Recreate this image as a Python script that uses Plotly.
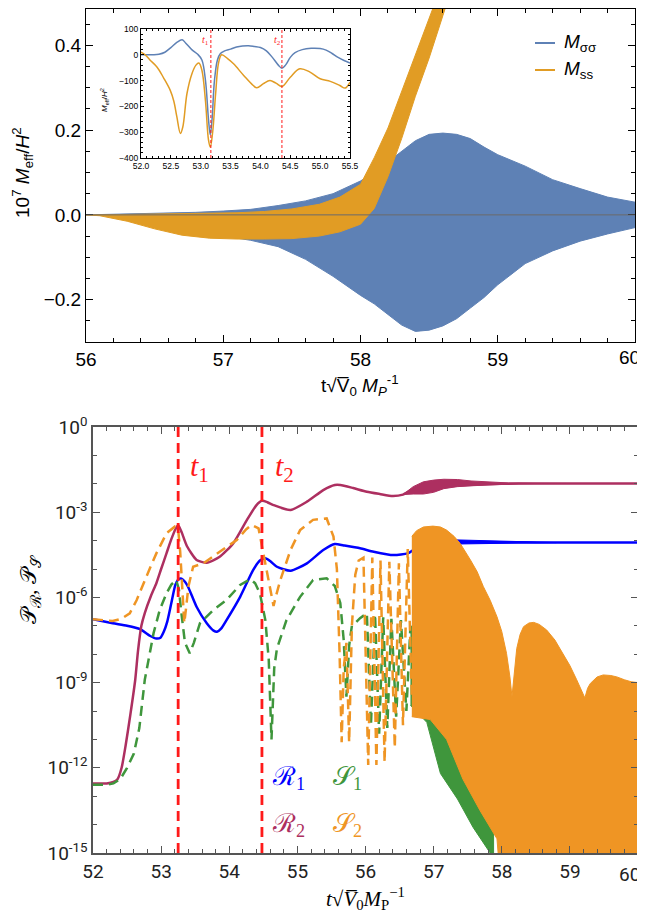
import plotly.graph_objects as go

# page body has an 8px margin; the figure is sized to fill the rest of the 645x919 window
OX, OY = 8, 8
W, H = 645 - OX, 919 - OY
def px(x): return (x - OX) / W
def py(y): return 1 - (y - OY) / H

C_SIG = '#5E81B5'
C_SS = '#E19C24'
C_R1 = '#0000FF'
C_R2 = '#AD2F60'
C_S1 = '#3F963C'
C_S2 = '#EF9524'
RED = '#FF1A1A'

# ---------------- top panel: envelopes of the oscillating masses (10^7 M_eff/H^2)
m_sig_t = [56.0, 56.3, 56.6, 56.8, 57.0, 57.2, 57.4, 57.6, 57.8, 58.0, 58.1, 58.2, 58.3, 58.4, 58.5,
           58.6, 58.7, 58.8, 58.9, 59.0, 59.2, 59.4, 59.6, 59.8, 60.0]
m_sig_hi = [0.0, 0.002, 0.004, 0.006, 0.009, 0.013, 0.022, 0.033, 0.05, 0.08, 0.1, 0.125, 0.152, 0.175, 0.19,
            0.193, 0.19, 0.18, 0.16, 0.142, 0.115, 0.083, 0.062, 0.042, 0.03]
m_sig_lo = [0.0, -0.004, -0.02, -0.038, -0.05, -0.06, -0.075, -0.105, -0.145, -0.19, -0.21, -0.235, -0.26, -0.275, -0.272,
            -0.262, -0.245, -0.22, -0.195, -0.165, -0.115, -0.085, -0.062, -0.045, -0.03]

m_ss_t = [56.0, 56.1, 56.3, 56.5, 56.7, 56.9, 57.1, 57.3, 57.5, 57.7, 57.85, 58.0, 58.1, 58.2, 58.3, 58.4, 58.5, 58.6, 58.7]
m_ss_hi = [0.0, 0.0, 0.001, 0.002, 0.003, 0.004, 0.005, 0.008, 0.014, 0.025, 0.042, 0.072, 0.135, 0.205, 0.29, 0.375, 0.46, 0.55, 0.65]
m_ss_lo = [0.0, -0.002, -0.015, -0.033, -0.048, -0.055, -0.057, -0.057, -0.056, -0.05, -0.04, -0.022, 0.015, 0.09, 0.18, 0.28, 0.37, 0.47, 0.57]

top_xticks = [56, 57, 58, 59, 60]
top_xlabels = ['56', '57', '58', '59', '60']

# ---------------- inset (M_eff/H^2)
in_sig_t = [52.0, 52.2, 52.3, 52.4, 52.5, 52.6, 52.69, 52.75, 52.85, 52.95, 53.02, 53.08, 53.13, 53.16, 53.19,
            53.23, 53.28, 53.33, 53.4, 53.5, 53.6, 53.7, 53.8, 53.9, 54.0, 54.1, 54.2, 54.3, 54.36, 54.42,
            54.5, 54.58, 54.7, 54.85, 55.0, 55.1, 55.2, 55.3, 55.4, 55.5]
in_sig_v = [0, 0, 2, 10, 28, 48, 58, 45, 20, 2, -20, -100, -250, -310, -250,
            -100, -20, 5, 15, 22, 30, 34, 35, 32, 28, 15, -10, -40, -52, -40,
            -10, 8, 20, 25, 24, 18, 5, -10, -22, -32]
in_ss_t = [52.0, 52.07, 52.15, 52.27, 52.38, 52.49, 52.55, 52.6, 52.66, 52.7, 52.77, 52.85, 52.92, 52.97,
           53.02, 53.08, 53.13, 53.16, 53.2, 53.25, 53.3, 53.35, 53.45, 53.55, 53.72, 53.88, 53.94, 54.05,
           54.16, 54.26, 54.36, 54.5, 54.66, 54.83, 55.0, 55.17, 55.33, 55.42, 55.5]
in_ss_v = [10, 0, -20, -48, -90, -138, -180, -240, -305, -280, -150, -75, -40, -32,
           -60, -180, -330, -358, -300, -150, -30, 0, -15, -35, -80, -119, -128, -112,
           -100, -110, -123, -87, -54, -67, -93, -103, -119, -129, -106]
in_t1, in_t2 = 53.17, 54.36

# ---------------- bottom panel (log10 of power spectra)
R1_t = [52.0, 52.29, 52.5, 52.69, 52.84, 52.93, 52.99, 53.04, 53.09, 53.15, 53.21, 53.26, 53.3, 53.35, 53.4,
        53.52, 53.67, 53.77, 53.82, 53.88, 53.96, 54.16, 54.35, 54.45, 54.53, 54.6, 54.7, 54.9, 55.14, 55.38,
        55.55, 55.68, 55.92, 56.12, 56.41, 56.62, 56.72, 56.85, 57.0, 57.4, 58.0, 59.0, 60.0]
R1_v = [-6.77, -6.91, -7.0, -7.12, -7.36, -7.45, -7.42, -7.2, -6.85, -6.2, -5.55, -5.35, -5.34, -5.45, -5.65,
        -6.33, -6.91, -7.17, -7.21, -7.1, -6.8, -5.98, -5.04, -4.7, -4.62, -4.72, -4.92, -5.06, -4.8, -4.33,
        -4.12, -4.17, -4.27, -4.39, -4.51, -4.45, -4.3, -4.15, -4.08, -4.05, -4.06, -4.07, -4.07]
R1b_t = [56.7, 56.9, 57.1, 57.4, 57.7, 58.0, 58.4, 58.8]
R1b_hi = [-4.3, -3.98, -3.96, -3.98, -4.01, -4.03, -4.05, -4.07]
R1b_lo = [-4.3, -4.15, -4.13, -4.12, -4.1, -4.09, -4.08, -4.07]

R2_t = [52.0, 52.2, 52.3, 52.36, 52.42, 52.48, 52.55, 52.62, 52.66, 52.71, 52.76, 52.85, 52.93, 53.0, 53.08,
        53.15, 53.21, 53.25, 53.3, 53.38, 53.52, 53.67, 53.86, 54.06, 54.26, 54.4, 54.48, 54.56, 54.65, 54.9,
        55.14, 55.38, 55.55, 55.63, 55.82, 56.02, 56.21, 56.4, 56.55, 56.7, 57.0, 57.5, 58.0, 58.5, 59.0, 60.0]
R2_v = [-12.55, -12.55, -12.5, -12.4, -12.0, -11.2, -10.1, -8.9, -7.9, -7.0, -6.55, -5.95, -5.5, -5.0, -4.44,
        -3.95, -3.6, -3.45, -3.7, -4.2, -4.68, -4.78, -4.57, -4.09, -3.27, -2.75, -2.6, -2.65, -2.75, -2.92,
        -2.63, -2.22, -2.04, -2.04, -2.15, -2.28, -2.36, -2.43, -2.38, -2.2, -2.1, -2.04, -2.0, -1.99, -1.99, -1.99]
R2b_t = [56.55, 56.7, 56.85, 57.0, 57.15, 57.35, 57.55, 57.8, 58.1, 58.5, 59.0]
R2b_hi = [-2.38, -2.1, -1.93, -1.87, -1.84, -1.85, -1.9, -1.94, -1.97, -1.985, -1.99]
R2b_lo = [-2.38, -2.36, -2.36, -2.3, -2.17, -2.1, -2.07, -2.03, -2.01, -1.995, -1.99]

S1_t = [52.0, 52.2, 52.3, 52.4, 52.5, 52.6, 52.68, 52.76, 52.89, 52.98, 53.08, 53.15, 53.22, 53.26, 53.3,
        53.35, 53.42, 53.48, 53.57, 53.77, 53.96, 54.16, 54.31, 54.38, 54.45, 54.53, 54.58, 54.62, 54.66, 54.7,
        54.84, 55.04, 55.23, 55.43, 55.55, 55.63, 55.68, 55.72, 55.76, 55.8, 55.85, 55.92, 56.02, 56.08, 56.14,
        56.2, 56.26, 56.32, 56.38, 56.45, 56.52, 56.6, 56.66]
S1_v = [-12.6, -12.6, -12.55, -12.4, -12.0, -11.5, -10.6, -8.9, -7.25, -6.44, -5.85, -5.55, -5.39, -5.7, -6.6,
        -7.6, -7.97, -7.6, -6.91, -6.44, -6.09, -5.56, -5.36, -5.5, -5.86, -6.8, -8.2, -11.0, -8.5, -7.8,
        -6.8, -5.98, -5.39, -5.33, -5.6, -6.2, -7.5, -9.5, -7.7, -7.0, -6.9, -6.73, -6.56, -10.5, -6.6,
        -10.8, -6.7, -10.6, -6.75, -10.2, -6.8, -10.0, -7.0]
S1hi_t = [56.66, 56.9, 57.2, 57.5, 57.75, 57.88]
S1hi_v = [-7.0, -7.3, -8.0, -9.5, -11.5, -14.0]
S1lo_t = [56.66, 56.9, 57.1, 57.35, 57.58, 57.83, 57.88]
S1lo_v = [-9.8, -10.4, -12.2, -13.1, -14.1, -15.0, -16.0]

S2_t = [52.0, 52.29, 52.42, 52.54, 52.64, 52.74, 52.84, 52.93, 53.08, 53.2, 53.25, 53.28, 53.31, 53.34, 53.37,
        53.4, 53.47, 53.62, 53.86, 54.11, 54.25, 54.33, 54.43, 54.5, 54.57, 54.62, 54.65, 54.68, 54.75, 54.9,
        55.04, 55.23, 55.43, 55.53, 55.58, 55.62, 55.65, 55.68, 55.72, 55.76, 55.8, 55.85, 55.9, 55.97, 56.04,
        56.1, 56.16, 56.22, 56.28, 56.35, 56.43, 56.49, 56.55, 56.62, 56.68]
S2_v = [-6.77, -6.83, -6.75, -6.56, -6.1, -5.5, -4.95, -4.45, -3.74, -3.51, -3.6, -4.4, -5.6, -6.9, -6.3,
        -5.62, -4.92, -4.8, -4.39, -3.98, -3.6, -3.45, -3.57, -4.45, -5.27, -6.0, -6.3, -6.0, -5.39, -4.33,
        -3.63, -3.27, -3.22, -3.86, -5.0, -8.0, -11.1, -8.5, -7.6, -11.1, -7.0, -5.2, -4.7, -4.6, -11.9,
        -4.6, -11.9, -4.7, -11.8, -4.75, -11.3, -4.8, -10.5, -4.3, -9.5]
S2hi_t = [56.68, 56.75, 56.85, 56.99, 57.1, 57.19, 57.3, 57.39, 57.54, 57.64, 57.73, 57.83, 57.93, 58.0, 58.07,
          58.12, 58.15, 58.18, 58.22, 58.27, 58.32, 58.4, 58.47, 58.55, 58.66, 58.78, 58.9, 59.0, 59.1, 59.17,
          59.22, 59.26, 59.3, 59.4, 59.49, 59.6, 59.69, 59.8, 59.9, 60.0]
S2hi_v = [-3.85, -3.65, -3.52, -3.49, -3.52, -3.63, -3.85, -4.1, -4.68, -5.1, -5.62, -6.1, -6.68, -7.2, -7.97,
          -8.8, -9.5, -8.7, -7.8, -7.3, -7.03, -6.9, -6.88, -6.95, -7.15, -7.5, -7.97, -8.4, -8.9, -9.3,
          -9.54, -9.2, -9.03, -8.8, -8.73, -8.75, -8.8, -8.9, -8.97, -9.0]
S2lo_t = [56.68, 56.95, 57.19, 57.43, 57.68, 57.93, 57.98, 60.0]
S2lo_v = [-10.2, -10.3, -11.0, -12.4, -13.5, -14.5, -16.0, -16.0]

bot_xticks = [52, 53, 54, 55, 56, 57, 58, 59, 60]
bot_xlabels = ['52', '53', '54', '55', '56', '57', '58', '59', '60']

t1, t2 = 53.25, 54.48

def p10(v):
    return [10 ** a for a in v]

def band(ax, ay, t_hi, v_hi, t_lo, v_lo, color, log=False):
    yy = v_hi + v_lo[::-1]
    if log:
        yy = p10(yy)
    return go.Scatter(x=t_hi + t_lo[::-1], y=yy, fill='toself', fillcolor=color, mode='lines',
                      line=dict(color=color, width=1), xaxis=ax, yaxis=ay, hoverinfo='skip', showlegend=False)

fig = go.Figure()
# top panel bands
fig.add_trace(band('x', 'y', m_sig_t, m_sig_hi, m_sig_t, m_sig_lo, C_SIG))
fig.add_trace(band('x', 'y', m_ss_t, m_ss_hi, m_ss_t, m_ss_lo, C_SS))
# inset
fig.add_trace(go.Scatter(x=in_sig_t, y=in_sig_v, mode='lines', line=dict(color=C_SIG, width=1.5, shape='spline'),
                         xaxis='x2', yaxis='y2', showlegend=False))
fig.add_trace(go.Scatter(x=in_ss_t, y=in_ss_v, mode='lines', line=dict(color=C_SS, width=1.5, shape='spline'),
                         xaxis='x2', yaxis='y2', showlegend=False))
# bottom
fig.add_trace(go.Scatter(x=R1_t, y=p10(R1_v), mode='lines', line=dict(color=C_R1, width=2.5, shape='spline', smoothing=0.6),
                         xaxis='x3', yaxis='y3', showlegend=False))
fig.add_trace(band('x3', 'y3', R1b_t, R1b_hi, R1b_t, R1b_lo, C_R1, log=True))
fig.add_trace(go.Scatter(x=R2_t, y=p10(R2_v), mode='lines', line=dict(color=C_R2, width=2.5, shape='spline', smoothing=0.6),
                         xaxis='x3', yaxis='y3', showlegend=False))
fig.add_trace(band('x3', 'y3', R2b_t, R2b_hi, R2b_t, R2b_lo, C_R2, log=True))
fig.add_trace(go.Scatter(x=S1_t, y=p10(S1_v), mode='lines', line=dict(color=C_S1, width=2.5, dash='10px,6px'),
                         xaxis='x3', yaxis='y3', showlegend=False))
fig.add_trace(band('x3', 'y3', S1hi_t, S1hi_v, S1lo_t, S1lo_v, C_S1, log=True))
fig.add_trace(go.Scatter(x=S2_t, y=p10(S2_v), mode='lines', line=dict(color=C_S2, width=2.5, dash='10px,6px'),
                         xaxis='x3', yaxis='y3', showlegend=False))
fig.add_trace(band('x3', 'y3', S2hi_t, S2hi_v, S2lo_t, S2lo_v, C_S2, log=True))

shapes = []
# top zero line
shapes.append(dict(type='line', xref='x domain', yref='y', x0=0, x1=1, y0=0, y1=0,
                   line=dict(color='#6b6b6b', width=1), layer='above'))
# inset zero line
shapes.append(dict(type='line', xref='x2 domain', yref='y2', x0=0, x1=1, y0=0, y1=0,
                   line=dict(color='#9a9a9a', width=1.5), layer='below'))
for tv in (in_t1, in_t2):
    shapes.append(dict(type='line', xref='x2', yref='y2 domain', x0=tv, x1=tv, y0=0, y1=1,
                       line=dict(color=RED, width=1, dash='3px,2px'), layer='above'))
for tv in (t1, t2):
    shapes.append(dict(type='line', xref='x3', yref='y3 domain', x0=tv, x1=tv, y0=0, y1=1,
                       line=dict(color=RED, width=2.8, dash='10px,6px'), layer='above'))
# top legend lines
for yy, c in ((43, C_SIG), (70, C_SS)):
    shapes.append(dict(type='line', xref='paper', yref='paper', x0=px(535), x1=px(555), y0=py(yy), y1=py(yy),
                       line=dict(color=c, width=2)))

SANS = 'Liberation Sans, Arial, sans-serif'
SERIF = 'Liberation Serif, DejaVu Serif, serif'
ROBOTO = 'Roboto, sans-serif'
ann = []
def A(x, y, text, size, color='black', family=SANS, angle=0, xanchor='center'):
    ann.append(dict(x=px(x), y=py(y), xref='paper', yref='paper', text=text, showarrow=False,
                    font=dict(size=size, color=color, family=family), textangle=angle,
                    xanchor=xanchor, yanchor='middle'))

A(562, 43, '<i>M</i><sub>σσ</sub>', 19, xanchor='left')
A(562, 70, '<i>M</i><sub>ss</sub>', 19, xanchor='left')
A(22, 173, '10<sup>7</sup> <i>M</i><sub>eff</sub>/<i>H</i><sup>2</sup>', 19, angle=-90)
A(360, 385, 't√V̅<sub>0</sub> <i>M<sub>P</sub></i><sup>-1</sup>', 19)
A(104, 100, '<i>M</i><sub>eff</sub>/<i>H</i><sup>2</sup>', 8, angle=-90)
A(205, 40, '<i>t</i><sub>1</sub>', 10, color=RED, family=SERIF)
A(277, 40, '<i>t</i><sub>2</sub>', 10, color=RED, family=SERIF)
A(199, 468, '<i>t</i><sub>1</sub>', 30, color=RED, family=SERIF)
A(284, 468, '<i>t</i><sub>2</sub>', 30, color=RED, family=SERIF)
A(288, 778, 'ℛ<sub>1</sub>', 26, color=C_R1, family=SERIF)
A(347, 778, '𝒮<sub>1</sub>', 26, color=C_S1, family=SERIF)
A(288, 825, 'ℛ<sub>2</sub>', 26, color=C_R2, family=SERIF)
A(347, 825, '𝒮<sub>2</sub>', 26, color=C_S2, family=SERIF)
A(30, 590, '𝒫<sub>ℛ</sub>, 𝒫<sub>𝒮</sub>', 22, family=SERIF, angle=-90)
A(365, 898, '<i>t</i>√<i>V̅</i><sub>0</sub><i>M</i><sub>P</sub><sup>−1</sup>', 21, family=SERIF)
# last x tick labels, kept inside the picture edge
A(642, 357, top_xlabels[-1], 19, xanchor='right')
A(642, 874, bot_xlabels[-1], 19, family=ROBOTO, color='#222', xanchor='right')

frame_top = dict(showline=True, linecolor='black', linewidth=1, mirror='allticks', ticks='inside',
                 tickcolor='black', showgrid=False, zeroline=False, automargin=False,
                 ticklabeloverflow='allow')
frame_bot = dict(showline=True, linecolor='#555555', linewidth=1.5, mirror='allticks', ticks='inside',
                 tickcolor='#555555', showgrid=False, zeroline=False, automargin=False,
                 ticklabeloverflow='allow')

log_major = [10.0 ** (-k) for k in (0, 3, 6, 9, 12, 15)]
log_text = ['10<sup>0</sup>', '10<sup>-3</sup>', '10<sup>-6</sup>', '10<sup>-9</sup>', '10<sup>-12</sup>', '10<sup>-15</sup>']
log_minor = [10.0 ** (-k) for k in range(16)]

# top frame cannot sit above the 8px page margin: keep the data scale (0.5 at y=3) and trim the range
top_y_top = 0.5 - 0.8 * (OY + 1 - 3) / (342 - 3)

fig.update_layout(
    width=W, height=H, autosize=False, margin=dict(l=0, r=0, t=0, b=0, autoexpand=False),
    paper_bgcolor='white', plot_bgcolor='white', showlegend=False,
    xaxis=dict(domain=[px(86), px(635)], anchor='y', range=[56, 60], tickvals=top_xticks,
               ticktext=top_xlabels[:-1] + [''], ticklen=7,
               minor=dict(dtick=0.2, tick0=56, ticklen=4, ticks='inside', tickcolor='black'),
               tickfont=dict(family=SANS, size=19, color='black'), **frame_top),
    yaxis=dict(domain=[py(342), py(OY + 1)], anchor='x', range=[-0.3, top_y_top], tickvals=[-0.2, 0, 0.2, 0.4],
               ticktext=['−0.2', '0.0', '0.2', '0.4'], ticklen=7,
               minor=dict(dtick=0.05, tick0=0, ticklen=4, ticks='inside', tickcolor='black'),
               tickfont=dict(family=SANS, size=19, color='black'), **frame_top),
    xaxis2=dict(domain=[px(141), px(350)], anchor='y2', range=[52, 55.5], dtick=0.5, tickformat='.1f', ticklen=3,
                minor=dict(dtick=0.1, ticklen=2, ticks='inside', tickcolor='black'),
                tickfont=dict(family=SANS, size=8.5, color='black'), **frame_top),
    yaxis2=dict(domain=[py(158), py(29)], anchor='x2', range=[-400, 100], tickvals=[-400, -300, -200, -100, 0, 100],
                ticktext=['−400', '−300', '−200', '−100', '0', '100'], ticklen=3,
                minor=dict(dtick=20, tick0=0, ticklen=2, ticks='inside', tickcolor='black'),
                tickfont=dict(family=SANS, size=8.5, color='black'), **frame_top),
    xaxis3=dict(domain=[px(93), px(638)], anchor='y3', range=[52, 60], tickvals=bot_xticks,
                ticktext=bot_xlabels[:-1] + [''], ticklen=7,
                minor=dict(dtick=0.2, tick0=52, ticklen=4, ticks='inside', tickcolor='#555555'),
                tickfont=dict(family=ROBOTO, size=19, color='#222'), **frame_bot),
    yaxis3=dict(domain=[py(853), py(427)], anchor='x3', type='log', range=[-15, 0], tickvals=log_major,
                ticktext=log_text, ticklen=7,
                minor=dict(tickmode='array', tickvals=log_minor, ticklen=4, ticks='inside', tickcolor='#555555'),
                tickfont=dict(family=ROBOTO, size=19, color='#222'), **frame_bot),
    shapes=shapes, annotations=ann,
)

fig.write_html('out.html')
